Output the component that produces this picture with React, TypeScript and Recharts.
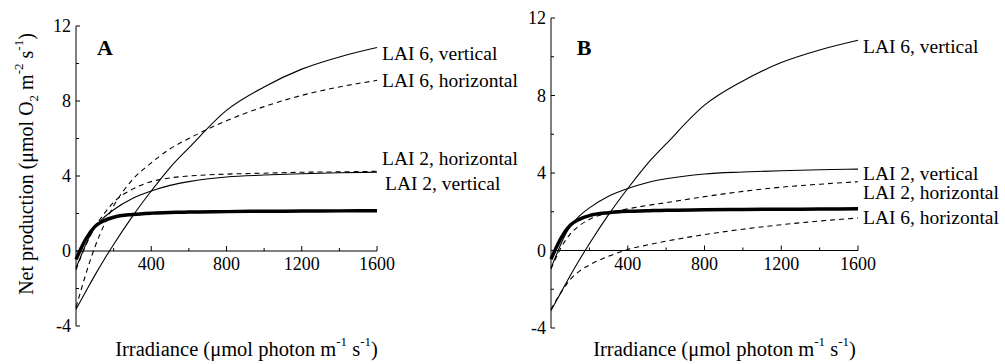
import React from "react";
import { LineChart, Line, XAxis, YAxis, ReferenceLine, LabelList, Label } from "recharts";

// irradiance (µmol photon m-1 s-1) at which every curve was read
const irradiance = [0, 25, 50, 100, 150, 200, 300, 400, 500, 600, 800, 1000, 1200, 1400, 1600];

// net production (µmol O2 m-2 s-1)
const thickCurve = [-0.45, 0.1, 0.6, 1.3, 1.62, 1.8, 1.95, 2.02, 2.05, 2.08, 2.1, 2.12, 2.13, 2.14, 2.15];
const lai2Vertical = [-0.9, -0.3, 0.3, 1.25, 1.8, 2.2, 2.8, 3.2, 3.5, 3.7, 3.95, 4.05, 4.12, 4.17, 4.2];
const lai6Vertical = [-3.1, -2.65, -2.2, -1.3, -0.45, 0.35, 1.85, 3.2, 4.45, 5.5, 7.5, 8.75, 9.7, 10.35, 10.85];
const lai2HorizontalA = [-1.0, -0.35, 0.25, 1.25, 2.0, 2.6, 3.3, 3.7, 3.9, 4.0, 4.1, 4.15, 4.2, 4.22, 4.25];
const lai6HorizontalA = [-3.0, -2.15, -1.3, 0.2, 1.4, 2.4, 3.8, 4.7, 5.45, 6.0, 6.95, 7.7, 8.3, 8.75, 9.1];
const lai2HorizontalB = [-0.95, -0.4, 0.1, 0.85, 1.3, 1.6, 1.95, 2.15, 2.32, 2.47, 2.78, 3.05, 3.27, 3.42, 3.55];
const lai6HorizontalB = [-3.05, -2.6, -2.2, -1.5, -1.05, -0.75, -0.3, 0.05, 0.28, 0.48, 0.82, 1.1, 1.33, 1.52, 1.68];

const xTicks = [200, 400, 600, 800, 1000, 1200, 1400, 1600];
const yTicks = [-4, -2, 0, 2, 4, 6, 8, 10, 12];
const Y_MIN = -4;
const Y_MAX = 12;

const FONT = "'Liberation Serif', 'Times New Roman', serif";
const CHART_H = 364;
const Y_GAP = 5;

function buildRows(h2: number[], h6: number[]) {
  return irradiance.map((x, i) => ({
    x,
    thick: thickCurve[i],
    v2: lai2Vertical[i],
    v6: lai6Vertical[i],
    h2: h2[i],
    h6: h6[i],
  }));
}

function YTick(props: any) {
  const { x, y, payload } = props;
  const axisX = x + Y_GAP;
  const major = payload.value % 4 === 0;
  return (
    <g>
      <line x1={axisX} x2={axisX + (major ? 4 : 3)} y1={y} y2={y} stroke="#000" />
      {major && (
        <text x={x} y={y} textAnchor="end" dominantBaseline="central" fontFamily={FONT} fontSize={18} fill="#000">
          {payload.value}
        </text>
      )}
    </g>
  );
}

function makeXTick(plotH: number) {
  return (props: any) => {
    const { x, y, payload } = props;
    const zeroY = y - (plotH * (0 - Y_MIN)) / (Y_MAX - Y_MIN);
    const major = payload.value % 400 === 0;
    return (
      <g>
        <line x1={x} x2={x} y1={zeroY} y2={zeroY - (major ? 5 : 3)} stroke="#000" />
        {major && (
          <text x={x} y={zeroY + 13} textAnchor="middle" dominantBaseline="central" fontFamily={FONT} fontSize={18} fill="#000">
            {payload.value}
          </text>
        )}
      </g>
    );
  };
}

function endLabel(text: string, dx: number, dy: number) {
  return (props: any) => {
    if (props.index !== irradiance.length - 1) return null;
    return (
      <text x={props.x + dx} y={props.y + dy} dominantBaseline="central" fontFamily={FONT} fontSize={19.5} fill="#000">
        {text}
      </text>
    );
  };
}

const sup = { baselineShift: "super", fontSize: 13 } as any;
const sub = { baselineShift: "sub", fontSize: 13 } as any;

function XTitle(props: any) {
  const vb = props.viewBox;
  return (
    <text x={vb.x + vb.width / 2 + 20} y={349} textAnchor="middle" dominantBaseline="central" fontFamily={FONT} fontSize={20.5} fill="#000">
      Irradiance (μmol photon m<tspan style={sup}>-1</tspan> s<tspan style={sup}>-1</tspan>)
    </text>
  );
}

function YTitle(props: any) {
  const vb = props.viewBox;
  const cx = 26;
  const cy = vb.y + vb.height / 2 - 12;
  return (
    <text x={cx} y={cy} transform={`rotate(-90 ${cx} ${cy})`} textAnchor="middle" dominantBaseline="central" fontFamily={FONT} fontSize={20} fill="#000">
      Net production (μmol O<tspan style={sub}>2</tspan> m<tspan style={sup}>-2</tspan> s<tspan style={sup}>-1</tspan>)
    </text>
  );
}

type PanelProps = {
  left: number;
  width: number;
  top: number;
  plotBottom: number;
  axisW: number;
  plotRight: number;
  h2: number[];
  h6: number[];
  letter: string;
  letterX: number;
  labels: { v6: [number, number]; h6: [number, number]; v2: [number, number]; h2: [number, number] };
  yTitle: boolean;
};

function Panel(p: PanelProps) {
  const rows = buildRows(p.h2, p.h6);
  const plotH = p.plotBottom - p.top;
  const xTick = makeXTick(plotH);
  return (
    <div style={{ position: "absolute", left: p.left, top: 0, width: p.width, height: CHART_H }}>
      <LineChart
        width={p.width}
        height={CHART_H}
        data={rows}
        margin={{ top: p.top, right: p.width - p.plotRight, bottom: CHART_H - p.plotBottom - 30, left: 0 }}
      >
        <XAxis
          dataKey="x"
          type="number"
          domain={[0, 1600]}
          ticks={xTicks}
          interval={0}
          height={30}
          axisLine={false}
          tickLine={false}
          tickSize={0}
          tickMargin={0}
          tick={xTick}
        >
          <Label content={XTitle} />
        </XAxis>
        <YAxis
          type="number"
          domain={[Y_MIN, Y_MAX]}
          ticks={yTicks}
          interval={0}
          width={p.axisW}
          axisLine={{ stroke: "#000" }}
          tickLine={false}
          tickSize={0}
          tickMargin={Y_GAP}
          tick={YTick}
        >
          {p.yTitle && <Label content={YTitle} />}
        </YAxis>
        <ReferenceLine y={0} stroke="#000" strokeWidth={1} />
        <Line dataKey="v6" type="monotone" stroke="#000" strokeWidth={1.1} dot={false} isAnimationActive={false}>
          <LabelList content={endLabel("LAI 6, vertical", p.labels.v6[0], p.labels.v6[1])} />
        </Line>
        <Line dataKey="h6" type="monotone" stroke="#000" strokeWidth={1.1} strokeDasharray="5 4" dot={false} isAnimationActive={false}>
          <LabelList content={endLabel("LAI 6, horizontal", p.labels.h6[0], p.labels.h6[1])} />
        </Line>
        <Line dataKey="v2" type="monotone" stroke="#000" strokeWidth={1.1} dot={false} isAnimationActive={false}>
          <LabelList content={endLabel("LAI 2, vertical", p.labels.v2[0], p.labels.v2[1])} />
        </Line>
        <Line dataKey="h2" type="monotone" stroke="#000" strokeWidth={1.1} strokeDasharray="5 4" dot={false} isAnimationActive={false}>
          <LabelList content={endLabel("LAI 2, horizontal", p.labels.h2[0], p.labels.h2[1])} />
        </Line>
        <Line dataKey="thick" type="monotone" stroke="#000" strokeWidth={3.5} dot={false} isAnimationActive={false} />
      </LineChart>
      <div
        style={{
          position: "absolute",
          left: p.letterX,
          top: 47.5,
          transform: "translate(-50%, -50%)",
          fontFamily: FONT,
          fontWeight: "bold",
          fontSize: 22,
          lineHeight: 1,
        }}
      >
        {p.letter}
      </div>
    </div>
  );
}

export default function App() {
  return (
    <div style={{ position: "absolute", left: 0, top: 0, width: 1005, height: 364, background: "#fff" }}>
      <Panel
        left={500}
        width={505}
        top={18}
        plotBottom={328}
        axisW={51}
        plotRight={358}
        h2={lai2HorizontalB}
        h6={lai6HorizontalB}
        letter="B"
        letterX={84}
        labels={{ v6: [5, 6], h6: [5, 0], h2: [5, 11], v2: [5, 4] }}
        yTitle={false}
      />
      <Panel
        left={0}
        width={530}
        top={26}
        plotBottom={326}
        axisW={76}
        plotRight={377}
        h2={lai2HorizontalA}
        h6={lai6HorizontalA}
        letter="A"
        letterX={105}
        labels={{ v6: [5, 6], h6: [5, 0], h2: [5, -13], v2: [8, 11] }}
        yTitle
      />
    </div>
  );
}
